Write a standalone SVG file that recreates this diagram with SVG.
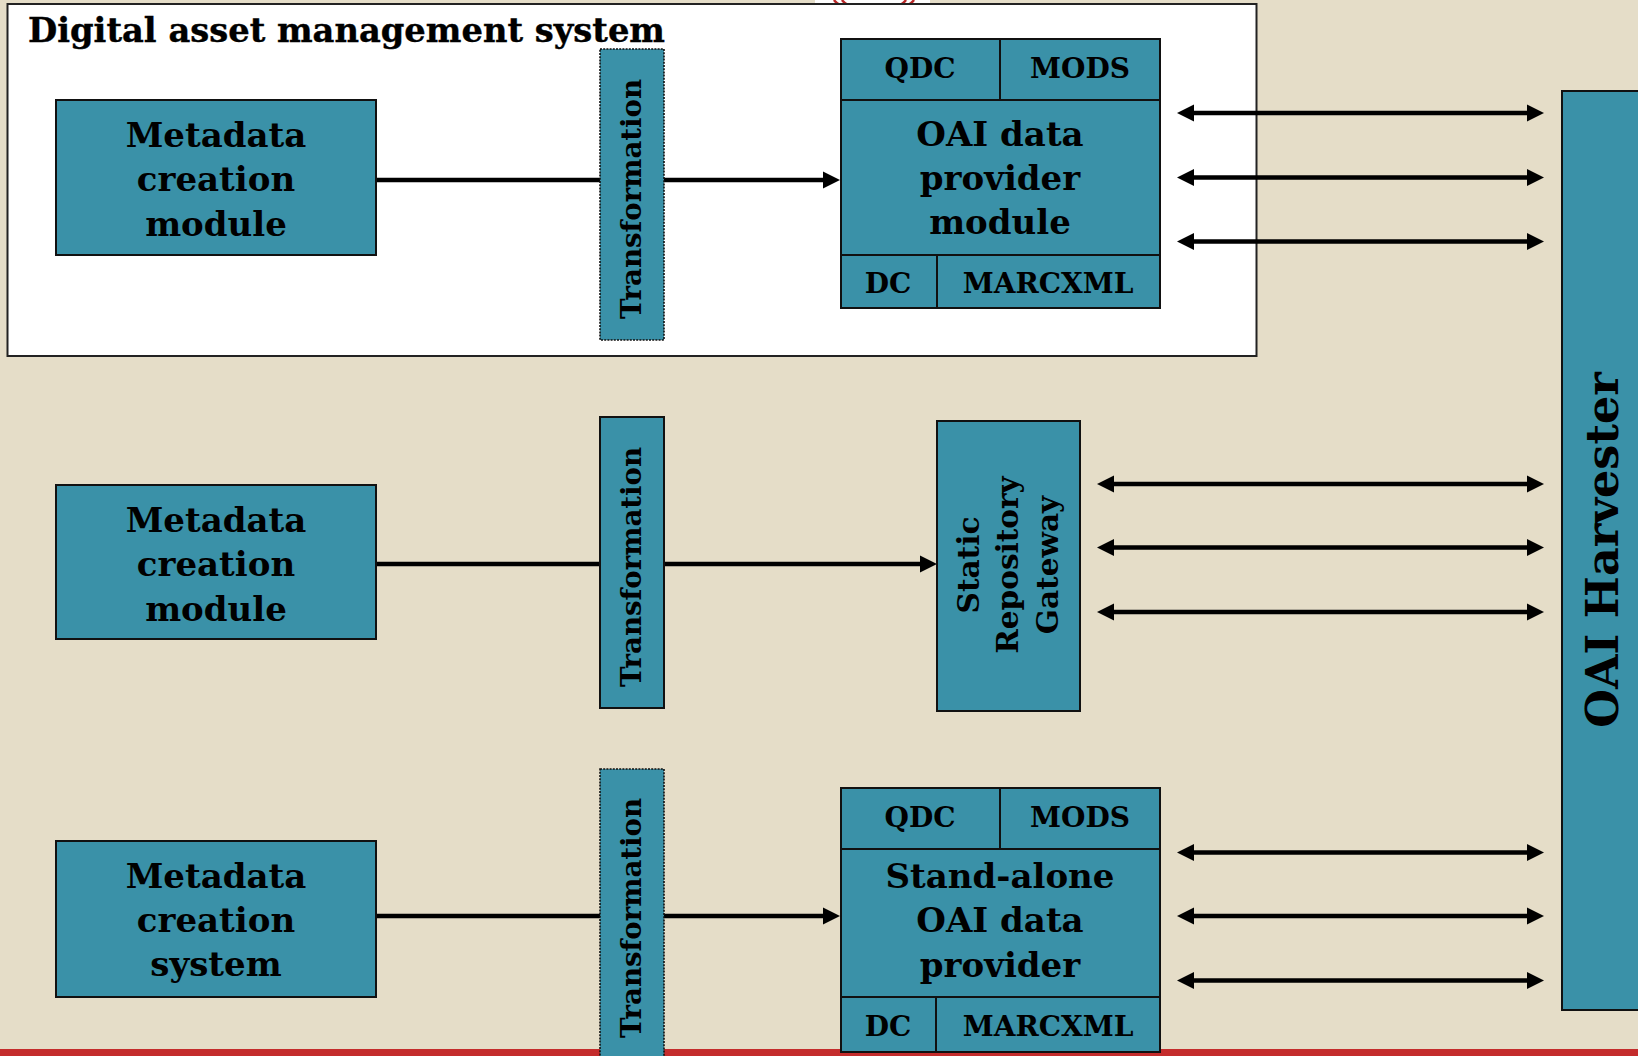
<svg xmlns="http://www.w3.org/2000/svg" width="1638" height="1056" viewBox="0 0 1638 1056">
<style>
.box{fill:#3a91a8;stroke:#111;stroke-width:2}
.dot{fill:#3a91a8;stroke:#111;stroke-width:1.6;stroke-dasharray:2 1.2}
.t{font-family:"DejaVu Serif","Liberation Serif",serif;font-weight:bold;fill:#000}
.lbl{font-size:34px;text-anchor:middle}
.fmt{font-size:28px;text-anchor:middle}
.sg{font-size:29.5px;text-anchor:middle}
.tr{font-size:28px;text-anchor:middle}
.ln{stroke:#000;stroke-width:4.5;fill:none}
</style>
<defs>
<marker id="ah" markerUnits="userSpaceOnUse" markerWidth="20" markerHeight="20" viewBox="0 -10 18 20" refX="0" refY="0" orient="auto-start-reverse">
<path d="M0,-8.5 L17,0 L0,8.5 Z" fill="#000"/>
</marker>
</defs>
<rect x="0" y="0" width="1638" height="1056" fill="#e5ddc8"/>
<rect x="0" y="1049" width="1638" height="7" fill="#c42c2c"/>
<g id="decoration">
<rect x="815" y="0" width="115" height="5" fill="#fff"/>
<path d="M834,0 Q836,3 840,5 M842,0 Q844,3 848,5 M906,0 Q904,3 900,5 M914,0 Q912,3 908,5" stroke="#b82828" stroke-width="2.5" fill="none"/>
</g>
<g id="dam-frame">
<rect x="7.5" y="4" width="1249" height="352" fill="#fff" stroke="#222" stroke-width="2"/>
<text class="t" x="28" y="42" font-size="34" textLength="637" lengthAdjust="spacingAndGlyphs" stroke="#000" stroke-width="0.4">Digital asset management system</text>
</g>
<g id="connectors">
<line class="ln" x1="376" y1="180" x2="600" y2="180"/>
<line class="ln" x1="664" y1="180" x2="823" y2="180" marker-end="url(#ah)"/>
<line class="ln" x1="376" y1="564" x2="600" y2="564"/>
<line class="ln" x1="664" y1="564" x2="920" y2="564" marker-end="url(#ah)"/>
<line class="ln" x1="376" y1="916" x2="600" y2="916"/>
<line class="ln" x1="664" y1="916" x2="823" y2="916" marker-end="url(#ah)"/>
<line class="ln" x1="1194" y1="113" x2="1527" y2="113" marker-start="url(#ah)" marker-end="url(#ah)"/>
<line class="ln" x1="1194" y1="177.5" x2="1527" y2="177.5" marker-start="url(#ah)" marker-end="url(#ah)"/>
<line class="ln" x1="1194" y1="241.5" x2="1527" y2="241.5" marker-start="url(#ah)" marker-end="url(#ah)"/>
<line class="ln" x1="1114" y1="484" x2="1527" y2="484" marker-start="url(#ah)" marker-end="url(#ah)"/>
<line class="ln" x1="1114" y1="547.5" x2="1527" y2="547.5" marker-start="url(#ah)" marker-end="url(#ah)"/>
<line class="ln" x1="1114" y1="612" x2="1527" y2="612" marker-start="url(#ah)" marker-end="url(#ah)"/>
<line class="ln" x1="1194" y1="852.5" x2="1527" y2="852.5" marker-start="url(#ah)" marker-end="url(#ah)"/>
<line class="ln" x1="1194" y1="916" x2="1527" y2="916" marker-start="url(#ah)" marker-end="url(#ah)"/>
<line class="ln" x1="1194" y1="980.5" x2="1527" y2="980.5" marker-start="url(#ah)" marker-end="url(#ah)"/>
</g>
<g id="metadata-module-1">
<rect class="box" x="56" y="100" width="320" height="155"/>
<text class="t lbl" x="216" y="146.5">Metadata</text>
<text class="t lbl" x="216" y="191">creation</text>
<text class="t lbl" x="216" y="235.5">module</text>
</g>
<g id="transformation-1">
<rect class="dot" x="600" y="49" width="64" height="291"/>
<text class="t tr" x="641" y="199" transform="rotate(-90 641 199)" textLength="240" lengthAdjust="spacingAndGlyphs">Transformation</text>
</g>
<g id="oai-data-provider-module">
<rect class="box" x="841" y="39" width="159" height="61"/>
<rect class="box" x="1000" y="39" width="160" height="61"/>
<rect class="box" x="841" y="100" width="319" height="155"/>
<rect class="box" x="841" y="255" width="96" height="53"/>
<rect class="box" x="937" y="255" width="223" height="53"/>
<text class="t fmt" x="920" y="78">QDC</text>
<text class="t fmt" x="1080" y="78">MODS</text>
<text class="t lbl" x="1000" y="146">OAI data</text>
<text class="t lbl" x="1000" y="190">provider</text>
<text class="t lbl" x="1000" y="234">module</text>
<text class="t fmt" x="888" y="293">DC</text>
<text class="t fmt" x="1048" y="293">MARCXML</text>
</g>
<g id="metadata-module-2">
<rect class="box" x="56" y="485" width="320" height="154"/>
<text class="t lbl" x="216" y="531.5">Metadata</text>
<text class="t lbl" x="216" y="576">creation</text>
<text class="t lbl" x="216" y="620.5">module</text>
</g>
<g id="transformation-2">
<rect class="box" x="600" y="417" width="64" height="291"/>
<text class="t tr" x="641" y="567" transform="rotate(-90 641 567)" textLength="240" lengthAdjust="spacingAndGlyphs">Transformation</text>
</g>
<g id="static-repository-gateway">
<rect class="box" x="937" y="421" width="143" height="290"/>
<text class="t sg" x="979" y="565" transform="rotate(-90 979 565)">Static</text>
<text class="t sg" x="1018" y="565" transform="rotate(-90 1018 565)">Repository</text>
<text class="t sg" x="1058" y="565" transform="rotate(-90 1058 565)">Gateway</text>
</g>
<g id="metadata-creation-system">
<rect class="box" x="56" y="841" width="320" height="156"/>
<text class="t lbl" x="216" y="887.5">Metadata</text>
<text class="t lbl" x="216" y="931.5">creation</text>
<text class="t lbl" x="216" y="975.5">system</text>
</g>
<g id="transformation-3">
<rect class="dot" x="600" y="769" width="64" height="300"/>
<text class="t tr" x="641" y="918" transform="rotate(-90 641 918)" textLength="240" lengthAdjust="spacingAndGlyphs">Transformation</text>
</g>
<g id="standalone-oai-data-provider">
<rect class="box" x="841" y="788" width="159" height="61"/>
<rect class="box" x="1000" y="788" width="160" height="61"/>
<rect class="box" x="841" y="849" width="319" height="148"/>
<rect class="box" x="841" y="997" width="95" height="55"/>
<rect class="box" x="936" y="997" width="224" height="55"/>
<text class="t fmt" x="920" y="826.5">QDC</text>
<text class="t fmt" x="1080" y="826.5">MODS</text>
<text class="t lbl" x="1000" y="887.5">Stand-alone</text>
<text class="t lbl" x="1000" y="932">OAI data</text>
<text class="t lbl" x="1000" y="976.5">provider</text>
<text class="t fmt" x="888" y="1036">DC</text>
<text class="t fmt" x="1048" y="1036">MARCXML</text>
</g>
<g id="oai-harvester">
<rect class="box" x="1562" y="91" width="90" height="919"/>
<text class="t" x="1618" y="550" font-size="44.5" text-anchor="middle" transform="rotate(-90 1618 550)">OAI Harvester</text>
</g>
</svg>
